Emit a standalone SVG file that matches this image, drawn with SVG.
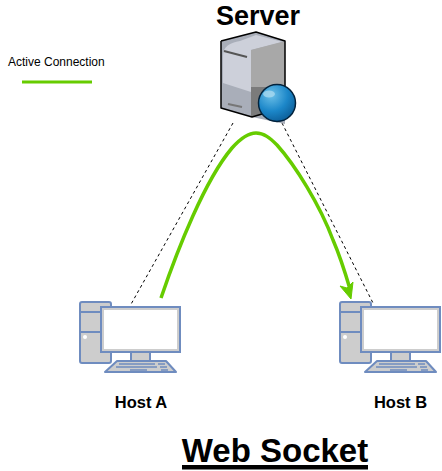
<svg xmlns="http://www.w3.org/2000/svg" width="442" height="471" viewBox="0 0 442 471">
<style>
text{font-family:"Liberation Sans",Arial,sans-serif;fill:#000}
.b{font-weight:bold}
.pc{fill:#cdcdcd;stroke:#6f8cbf;stroke-width:2;stroke-linejoin:round}
.ln{fill:none;stroke:#6f8cbf;stroke-width:2}
.k{fill:none;stroke:#6f8cbf;stroke-width:1.6}
.dash{fill:none;stroke:#000;stroke-width:1;stroke-dasharray:3 3}
.act{fill:none;stroke:#66cc00;stroke-width:3.5}
</style>
<defs>
<radialGradient id="ball" cx="0.35" cy="0.28" r="0.8"><stop offset="0" stop-color="#6cc0e8"/><stop offset="0.55" stop-color="#1c87c9"/><stop offset="1" stop-color="#0b5a94"/></radialGradient>
<g id="pcicon">
<rect class="pc" x="80" y="302" width="31" height="61" rx="2"/>
<path class="ln" d="M80 312H111M80 332H111"/>
<circle cx="85" cy="337" r="2" fill="#fff"/>
<rect class="pc" x="131" y="352" width="19" height="9"/>
<path class="pc" d="M117 361H166L176 372H105Z"/>
<path class="k" d="M119 364H155M158 364H165M116 367H157M160 367H167M130 370H147M161 370H168"/>
<rect x="101" y="307" width="79" height="45" fill="#fff" stroke="#6f8cbf" stroke-width="2"/>
<rect x="103" y="309" width="75" height="41" fill="#fff" stroke="#cdcdcd" stroke-width="2"/>
</g>
</defs>
<g id="connectors">
<path class="dash" d="M233 123L130 306"/>
<path class="dash" d="M282 123L373 303"/>
<path class="act" d="M161 298C178 248 205 180 232 148C240 139 248 133 256 133C264 133 270 138 277 145C295 165 320 205 333 240C340 256 345 272 350 289"/>
<path d="M340 286L347 288L353 282L351 299Z" fill="#66cc00" stroke="#66cc00" stroke-width="1"/>
</g>
<g id="legend">
<text x="8" y="66" font-size="12">Active Connection</text>
<path d="M22 82H92" stroke="#66cc00" stroke-width="3" fill="none"/>
</g>
<g id="server">
<text class="b" x="258" y="25" font-size="27" text-anchor="middle">Server</text>
<path d="M221 41L256 32L285 41V124L252 117L221 108Z" fill="#a9aeb9"/>
<path d="M223 56C223 46 230 43 240 41L256 35L283 42L251 50V92L223 83Z" fill="#cdd0da"/>
<path d="M251 50L285 41V87H251Z" fill="#a8a8a8"/>
<path d="M251 87H285V110L251 117Z" fill="#7b7b7b"/>
<path d="M221 41L256 32L285 41V105M221 41V108L252 117L262 114" fill="none" stroke="#000" stroke-width="1.5" stroke-linejoin="round"/>
<path d="M224 51L247 57" stroke="#555" stroke-width="2"/>
<path d="M228 104L242 107" stroke="#777" stroke-width="2"/>
<circle cx="277" cy="103" r="18.5" fill="url(#ball)" stroke="#02223c" stroke-width="1.5"/>
<ellipse cx="269" cy="94" rx="6" ry="3.5" fill="#a8d8ef" opacity=".8"/>
</g>
<g id="hostA">
<use href="#pcicon"/>
<text class="b" x="141" y="408" font-size="16.5" text-anchor="middle">Host A</text>
</g>
<g id="hostB">
<use href="#pcicon" x="260"/>
<text class="b" x="400.5" y="408" font-size="16.5" text-anchor="middle">Host B</text>
</g>
<g id="title">
<text class="b" x="275" y="462" font-size="33" text-anchor="middle">Web Socket</text>
<rect x="182" y="465" width="186" height="4.5" fill="#000"/>
</g>
</svg>
